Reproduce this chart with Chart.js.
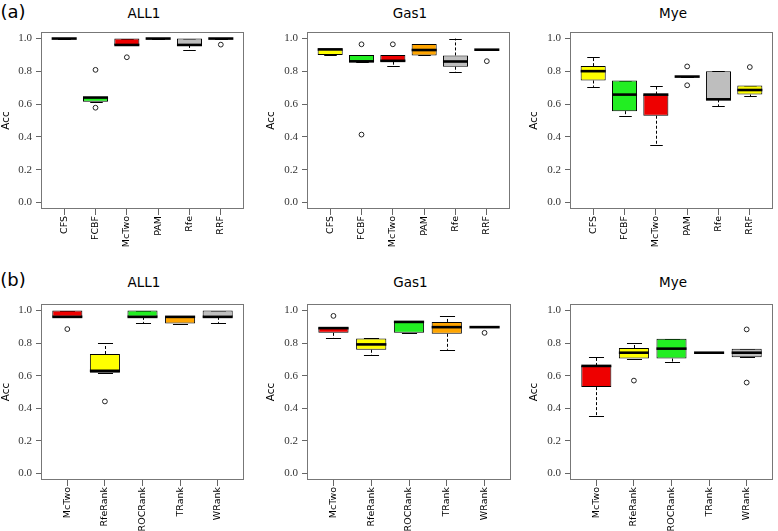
<!DOCTYPE html>
<html><head><meta charset="utf-8">
<script src="https://cdn.jsdelivr.net/npm/chart.js@4.4.1/dist/chart.umd.min.js"></script>
<style>
html,body{margin:0;padding:0;background:#fff;}
#wrap{position:relative;width:778px;height:531px;overflow:hidden;background:#fff;}
canvas{position:absolute;}
.lbl{position:absolute;font-family:'DejaVu Sans',sans-serif;color:#000;white-space:nowrap;transform:translate(-50%,-50%);line-height:1;}
</style></head><body><div id="wrap"></div>
<script>
// ---------- data ----------
const catsA = ['CFS','FCBF','McTwo','PAM','Rfe','RRF'];
const catsB = ['McTwo','RfeRank','ROCRank','TRank','WRank'];
const fillA = ['#FFFF00','#22EE22','#EE0000','#FFA500','#BEBEBE','#FFFF00'];
const fillB = ['#EE0000','#FFFF00','#22EE22','#FFA500','#BEBEBE'];
const yTicks = [0, 0.2, 0.4, 0.6, 0.8, 1.0];

// (a) ALL1
const aAll1Lo  = [1.000,0.615,0.961,1.000,0.929,1.000];
const aAll1Q1  = [1.000,0.615,0.961,1.000,0.961,1.000];
const aAll1Med = [1.000,0.640,0.961,1.000,0.961,1.000];
const aAll1Q3  = [1.000,0.643,1.000,1.000,1.000,1.000];
const aAll1Hi  = [1.000,0.643,1.000,1.000,1.000,1.000];
const aAll1Out = [[],[0.809,0.578],[0.886],[],[],[0.963]];

// (a) Gas1
const aGas1Lo  = [0.899,0.859,0.830,0.897,0.795,0.932];
const aGas1Q1  = [0.899,0.859,0.859,0.897,0.828,0.932];
const aGas1Med = [0.934,0.861,0.864,0.930,0.860,0.932];
const aGas1Q3  = [0.934,0.899,0.899,0.967,0.897,0.932];
const aGas1Hi  = [0.934,0.899,0.899,0.967,1.000,0.932];
const aGas1Out = [[],[0.965,0.414],[0.965],[],[],[0.862]];

// (a) Mye
const aMyeLo  = [0.705,0.529,0.352,0.768,0.586,0.648];
const aMyeQ1  = [0.744,0.557,0.529,0.768,0.629,0.658];
const aMyeMed = [0.801,0.658,0.658,0.768,0.629,0.686];
const aMyeQ3  = [0.832,0.744,0.658,0.768,0.801,0.713];
const aMyeHi  = [0.887,0.744,0.713,0.768,0.801,0.713];
const aMyeOut = [[],[],[],[0.830,0.715],[],[0.826]];

// (b) ALL1
const bAll1Lo  = [0.961,0.618,0.924,0.920,0.924];
const bAll1Q1  = [0.961,0.618,0.961,0.920,0.961];
const bAll1Med = [0.961,0.630,0.961,0.961,0.961];
const bAll1Q3  = [1.000,0.733,1.000,0.963,1.000];
const bAll1Hi  = [1.000,0.800,1.000,0.963,1.000];
const bAll1Out = [[0.886],[0.442],[],[],[]];

// (b) Gas1
const bGas1Lo  = [0.830,0.726,0.863,0.759,0.898];
const bGas1Q1  = [0.863,0.759,0.863,0.857,0.898];
const bGas1Med = [0.892,0.792,0.930,0.898,0.898];
const bGas1Q3  = [0.898,0.829,0.930,0.930,0.898];
const bGas1Hi  = [0.898,0.829,0.930,0.965,0.898];
const bGas1Out = [[0.967],[],[],[],[0.863]];

// (b) Mye
const bMyeLo  = [0.354,0.705,0.686,0.741,0.713];
const bMyeQ1  = [0.530,0.705,0.705,0.741,0.713];
const bMyeMed = [0.660,0.741,0.766,0.741,0.741];
const bMyeQ3  = [0.660,0.770,0.827,0.741,0.766];
const bMyeHi  = [0.713,0.798,0.827,0.741,0.766];
const bMyeOut = [[],[0.570],[],[],[0.884,0.558]];

// ---------- layout ----------
const panels = [
  {title:'ALL1', cats:catsA, fill:fillA, lo:aAll1Lo, q1:aAll1Q1, med:aAll1Med, q3:aAll1Q3, hi:aAll1Hi, out:aAll1Out, plot:[41,32,247,209], left:0,   row:[0,265]},
  {title:'Gas1', cats:catsA, fill:fillA, lo:aGas1Lo, q1:aGas1Q1, med:aGas1Med, q3:aGas1Q3, hi:aGas1Hi, out:aGas1Out, plot:[307,32,513,209], left:265, row:[0,265]},
  {title:'Mye',  cats:catsA, fill:fillA, lo:aMyeLo,  q1:aMyeQ1,  med:aMyeMed,  q3:aMyeQ3,  hi:aMyeHi,  out:aMyeOut,  plot:[570,32,776,209], left:528, row:[0,265]},
  {title:'ALL1', cats:catsB, fill:fillB, lo:bAll1Lo, q1:bAll1Q1, med:bAll1Med, q3:bAll1Q3, hi:bAll1Hi, out:bAll1Out, plot:[41,304,247,480], left:0,   row:[265,531]},
  {title:'Gas1', cats:catsB, fill:fillB, lo:bGas1Lo, q1:bGas1Q1, med:bGas1Med, q3:bGas1Q3, hi:bGas1Hi, out:bGas1Out, plot:[307,304,514,480], left:265, row:[265,531]},
  {title:'Mye',  cats:catsB, fill:fillB, lo:bMyeLo,  q1:bMyeQ1,  med:bMyeMed,  q3:bMyeQ3,  hi:bMyeHi,  out:bMyeOut,  plot:[570,304,776,480], left:528, row:[265,531]}
];

const wrap = document.getElementById('wrap');
function addLabel(text, cx, cy, size) {
  const d = document.createElement('div');
  d.className = 'lbl';
  d.textContent = text;
  d.style.left = cx + 'px';
  d.style.top = cy + 'px';
  d.style.fontSize = size + 'px';
  wrap.appendChild(d);
}
addLabel('(a)', 13, 12, 18);
addLabel('(b)', 13, 280, 18);

function makeBoxPlugin(p) {
  const snap = v => Math.round(v) + 0.5;
  return {
    id: 'boxExtras',
    beforeDatasetsDraw(chart) {
      const {ctx} = chart; const x = chart.scales.x, y = chart.scales.y;
      const unit = Math.abs(x.getPixelForValue(2) - x.getPixelForValue(1));
      const cap = unit * 0.8 * 0.25;
      ctx.save();
      ctx.strokeStyle = '#000'; ctx.lineWidth = 1;
      p.cats.forEach((c, i) => {
        const cx = snap(x.getPixelForValue(i + 1));
        ctx.setLineDash([3, 2]);
        ctx.beginPath();
        if (p.hi[i] > p.q3[i]) { ctx.moveTo(cx, y.getPixelForValue(p.q3[i])); ctx.lineTo(cx, y.getPixelForValue(p.hi[i])); }
        if (p.lo[i] < p.q1[i]) { ctx.moveTo(cx, y.getPixelForValue(p.q1[i])); ctx.lineTo(cx, y.getPixelForValue(p.lo[i])); }
        ctx.stroke();
        ctx.setLineDash([]);
        ctx.beginPath();
        [p.hi[i], p.lo[i]].forEach(v => {
          const py = snap(y.getPixelForValue(v));
          ctx.moveTo(cx - cap, py); ctx.lineTo(cx + cap, py);
        });
        ctx.stroke();
      });
      ctx.restore();
    },
    afterDatasetsDraw(chart) {
      const {ctx} = chart; const x = chart.scales.x, y = chart.scales.y;
      const unit = Math.abs(x.getPixelForValue(2) - x.getPixelForValue(1));
      const half = unit * 0.4;
      ctx.save();
      ctx.strokeStyle = '#000'; ctx.lineWidth = 2.6; ctx.lineCap = 'butt';
      p.cats.forEach((c, i) => {
        const cx = x.getPixelForValue(i + 1);
        const py = y.getPixelForValue(p.med[i]);
        ctx.beginPath(); ctx.moveTo(cx - half, py); ctx.lineTo(cx + half, py); ctx.stroke();
      });
      ctx.restore();
    },
    afterDraw(chart) {
      const {ctx, chartArea: a} = chart;
      ctx.save();
      ctx.strokeStyle = '#777'; ctx.lineWidth = 1;
      ctx.strokeRect(Math.round(a.left) + 0.5, Math.round(a.top) + 0.5, Math.round(a.right - a.left) - 1, Math.round(a.bottom - a.top) - 1);
      ctx.restore();
    }
  };
}

panels.forEach(p => {
  const [x0, y0, x1, y1] = p.plot;
  const top = p.row[0], height = p.row[1] - p.row[0];
  const left = p.left;
  const width = Math.min(778, x1 + 2) - left;
  const yw = x0 - left;
  const xh = top + height - y1;
  const n = p.cats.length;

  addLabel(p.title, (x0 + x1) / 2, top === 0 ? 13.5 : 283, 13.5);

  const cv = document.createElement('canvas');
  cv.width = width; cv.height = height;
  cv.style.left = left + 'px'; cv.style.top = top + 'px';
  cv.style.width = width + 'px'; cv.style.height = height + 'px';
  wrap.appendChild(cv);

  const boxes = p.cats.map((c, i) => ({x: i + 1, y: [p.q1[i], p.q3[i]]}));
  const outs = [];
  p.out.forEach((arr, i) => arr.forEach(v => outs.push({x: i + 1, y: v})));

  new Chart(cv, {
    type: 'bar',
    data: {
      datasets: [
        {type: 'scatter', data: outs, pointStyle: 'circle', pointRadius: 2.4, pointBorderWidth: 1,
         borderColor: '#222', backgroundColor: 'rgba(0,0,0,0)', showLine: false},
        {type: 'bar', data: boxes, backgroundColor: p.fill, borderColor: '#000', borderWidth: 1,
         borderSkipped: false, barPercentage: 0.8, categoryPercentage: 1.0}
      ]
    },
    options: {
      responsive: false, animation: false, events: [],
      layout: {padding: {top: y0 - top, right: left + width - x1, left: 0, bottom: 0}},
      plugins: {legend: {display: false}, tooltip: {enabled: false}, title: {display: false}},
      scales: {
        x: {
          type: 'linear', offset: false, min: 0.5 - 0.04 * n, max: n + 0.5 + 0.04 * n,
          afterBuildTicks: s => { s.ticks = p.cats.map((c, i) => ({value: i + 1})); },
          afterFit: s => { s.height = xh; },
          ticks: {autoSkip: false, minRotation: 90, maxRotation: 90, padding: 1, color: '#000',
                  font: {family: "'DejaVu Sans', sans-serif", size: 9.5},
                  callback: (v, i) => p.cats[i]},
          grid: {offset: false, drawOnChartArea: false, drawTicks: true, tickLength: 6, color: '#666'},
          border: {display: false}
        },
        y: {
          type: 'linear', min: -0.04, max: 1.04,
          afterBuildTicks: s => { s.ticks = yTicks.map(v => ({value: v})); },
          afterFit: s => { s.width = yw; },
          ticks: {padding: 4, color: '#333', font: {family: "'Liberation Serif', serif", size: 11},
                  callback: v => Number(v).toFixed(1)},
          grid: {drawOnChartArea: false, drawTicks: true, tickLength: 5, color: '#666'},
          border: {display: false},
          title: {display: true, text: 'Acc', color: '#000', padding: {top: 0, bottom: 0},
                  font: {family: "'DejaVu Sans', sans-serif", size: 10.5}}
        }
      }
    },
    plugins: [makeBoxPlugin(p)]
  });
});
</script>
</body></html>
